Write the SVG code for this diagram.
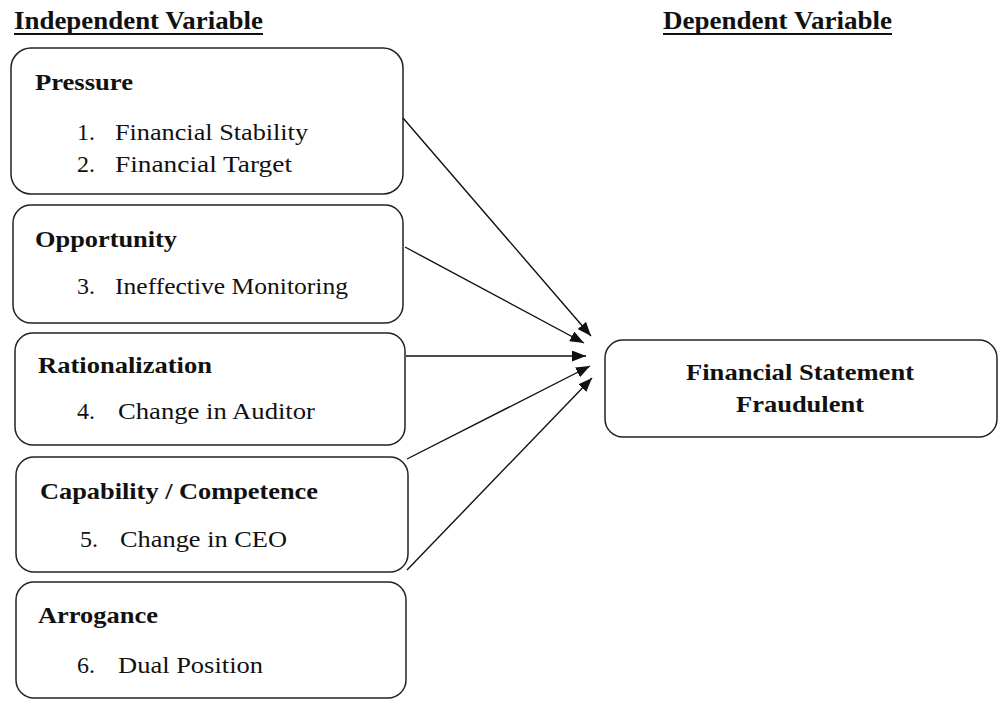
<svg xmlns="http://www.w3.org/2000/svg" width="1006" height="709" viewBox="0 0 1006 709">
  <style>
    .box { fill: #fff; stroke: #222; stroke-width: 1.5; }
    .head { font-family: "Liberation Serif", serif; font-weight: bold; font-size: 26px; fill: #111; }
    .rule { stroke: #111; stroke-width: 2; }
    .title { font-family: "Liberation Serif", serif; font-weight: bold; font-size: 24px; fill: #111; }
    .item { font-family: "Liberation Serif", serif; font-size: 24px; fill: #111; }
    .conn { stroke: #111; stroke-width: 1.4; fill: none; marker-end: url(#arrow); }
  </style>
  <defs>
    <marker id="arrow" viewBox="0 0 14 11" refX="14" refY="5.5" markerWidth="14" markerHeight="11" markerUnits="userSpaceOnUse" orient="auto">
      <path d="M0,0 L14,5.5 L0,11 Z" fill="#111"/>
    </marker>
  </defs>
  <rect width="1006" height="709" fill="#fff"/>

  <!-- column headings with underline rules -->
  <text class="head" x="14" y="29" textLength="249" lengthAdjust="spacingAndGlyphs">Independent Variable</text>
  <line class="rule" x1="14" y1="34" x2="263" y2="34"/>
  <text class="head" x="663" y="29" textLength="229" lengthAdjust="spacingAndGlyphs">Dependent Variable</text>
  <line class="rule" x1="663" y1="34" x2="892" y2="34"/>

  <g id="pressure">
    <rect class="box" x="11" y="48" width="392" height="146" rx="20"/>
    <text class="title" x="35" y="90" textLength="98" lengthAdjust="spacingAndGlyphs">Pressure</text>
    <text class="item" x="77" y="140">1.</text>
    <text class="item" x="115" y="140" textLength="193" lengthAdjust="spacingAndGlyphs">Financial Stability</text>
    <text class="item" x="77" y="172">2.</text>
    <text class="item" x="115" y="172" textLength="177" lengthAdjust="spacingAndGlyphs">Financial Target</text>
  </g>

  <g id="opportunity">
    <rect class="box" x="13" y="205" width="390" height="118" rx="18"/>
    <text class="title" x="35" y="247" textLength="142" lengthAdjust="spacingAndGlyphs">Opportunity</text>
    <text class="item" x="77" y="294">3.</text>
    <text class="item" x="115" y="294" textLength="233" lengthAdjust="spacingAndGlyphs">Ineffective Monitoring</text>
  </g>

  <g id="rationalization">
    <rect class="box" x="15" y="333" width="390" height="112" rx="18"/>
    <text class="title" x="38" y="373" textLength="174" lengthAdjust="spacingAndGlyphs">Rationalization</text>
    <text class="item" x="77" y="419">4.</text>
    <text class="item" x="118" y="419" textLength="197" lengthAdjust="spacingAndGlyphs">Change in Auditor</text>
  </g>

  <g id="capability">
    <rect class="box" x="16" y="457" width="392" height="115" rx="18"/>
    <text class="title" x="40" y="499" textLength="278" lengthAdjust="spacingAndGlyphs">Capability / Competence</text>
    <text class="item" x="80" y="547">5.</text>
    <text class="item" x="120" y="547" textLength="167" lengthAdjust="spacingAndGlyphs">Change in CEO</text>
  </g>

  <g id="arrogance">
    <rect class="box" x="16" y="582" width="390" height="116" rx="18"/>
    <text class="title" x="38" y="623" textLength="120" lengthAdjust="spacingAndGlyphs">Arrogance</text>
    <text class="item" x="77" y="673">6.</text>
    <text class="item" x="118" y="673" textLength="145" lengthAdjust="spacingAndGlyphs">Dual Position</text>
  </g>

  <g id="fraud">
    <rect class="box" x="605" y="340" width="392" height="97" rx="18"/>
    <text class="title" x="686" y="380" textLength="228" lengthAdjust="spacingAndGlyphs">Financial Statement</text>
    <text class="title" x="736" y="412" textLength="128" lengthAdjust="spacingAndGlyphs">Fraudulent</text>
  </g>

  <g id="connectors">
    <line class="conn" x1="403" y1="118" x2="591" y2="336"/>
    <line class="conn" x1="405" y1="247" x2="584" y2="343"/>
    <line class="conn" x1="406" y1="356" x2="586" y2="356"/>
    <line class="conn" x1="407" y1="459" x2="590" y2="366"/>
    <line class="conn" x1="407" y1="570" x2="592" y2="378"/>
  </g>
</svg>
